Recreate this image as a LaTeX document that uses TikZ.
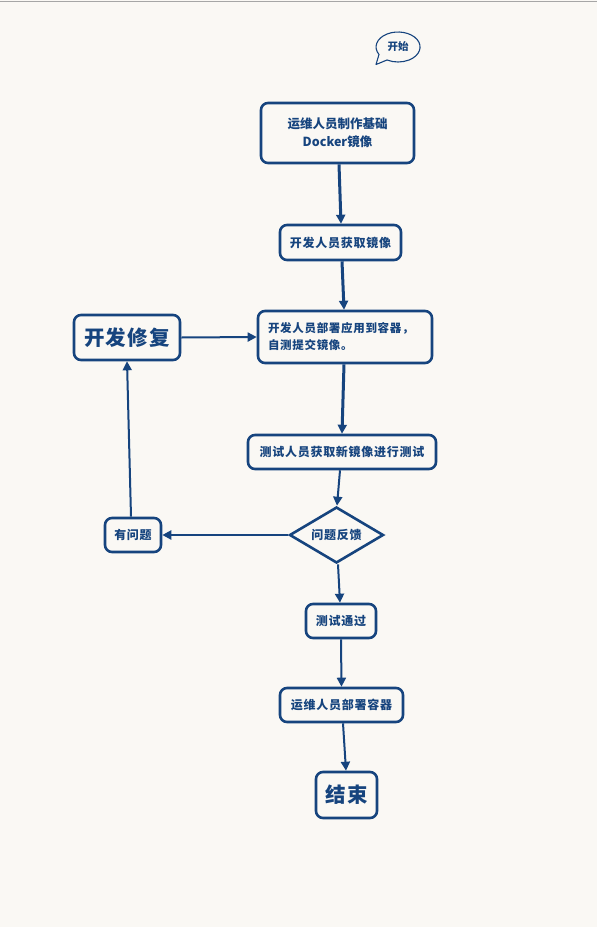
\documentclass[tikz,border=0pt]{standalone}
\usepackage{fontspec}
\usetikzlibrary{arrows.meta,shapes.geometric}
\newfontfamily\cjk{Noto Sans CJK SC}
\newfontfamily\cjkw[LetterSpace=6]{Noto Sans CJK SC}
\definecolor{bg}{RGB}{250,248,244}
\definecolor{dblue}{RGB}{22,68,126}
\begin{document}
\begin{tikzpicture}[x=1pt,y=-1pt,
  box/.style={draw=dblue, line width=2.6pt, rounded corners=7pt, fill=bg,
    align=center, inner sep=0pt, text=dblue, font=\cjkw\bfseries\fontsize{12}{17}\selectfont},
  bigbox/.style={box, font=\cjkw\bfseries\fontsize{20.5}{24}\selectfont},
  flow/.style={draw=dblue, line width=2pt, -{Triangle[length=9pt,width=9pt]}},
  thickflow/.style={flow, line width=3pt}]
% page
\fill[bg] (0,0) rectangle (597,927);
\useasboundingbox (0,0) rectangle (597,927);
\draw[gray!70, line width=1.5pt] (0,1.5) -- (597,1.5);

% start bubble
\draw[dblue, line width=1.1pt, fill=bg, line join=round]
  (379,54.5) arc[start angle=150, end angle=480, x radius=22, y radius=15]
  -- (376,64.5) -- cycle;
\fill[bg] (379.6,55.6) -- (385.5,58.6) -- (377.6,63) -- cycle;
\node[text=dblue, font=\cjk\bfseries\fontsize{10.5}{12}\selectfont] (start) at (398,47) {开始};

% nodes
\node[box, minimum width=153pt, minimum height=60pt,
  font=\cjk\bfseries\fontsize{12.5}{18}\selectfont] (base) at (337.5,133) {运维人员制作基础\\Docker镜像};
\node[box, minimum width=121pt, minimum height=35pt] (pull) at (340.5,242.5) {开发人员获取镜像};
\node[box, minimum width=174pt, minimum height=52pt, align=left, text width=154pt,
  font=\cjkw\bfseries\fontsize{11.5}{17}\selectfont] (deploy) at (345,337)
  {开发人员部署应用到容器，\\自测提交镜像。};
\node[bigbox, minimum width=106pt, minimum height=45pt] (fix) at (127,337.5) {开发修复};
\node[box, minimum width=188pt, minimum height=34pt] (test) at (342,452) {测试人员获取新镜像进行测试};
\node[draw=dblue, line width=2.6pt, fill=bg, diamond, shape aspect=1.68, inner sep=0pt,
  minimum width=94pt, minimum height=56pt, text=dblue,
  font=\cjkw\bfseries\fontsize{12}{14}\selectfont] (fb) at (336.5,535) {问题反馈};
\node[box, minimum width=56pt, minimum height=34pt] (issue) at (133,535) {有问题};
\node[box, minimum width=70pt, minimum height=34pt] (pass) at (341,621) {测试通过};
\node[box, minimum width=123pt, minimum height=34pt] (ops) at (341.5,705) {运维人员部署容器};
\node[bigbox, minimum width=61pt, minimum height=46pt] (end) at (346.5,795) {结束};

% connectors
\draw[thickflow] ([xshift=1.5pt]base.south) -- ([xshift=0.5pt]pull.north);
\draw[thickflow] ([xshift=1.5pt]pull.south) -- ([xshift=-1pt]deploy.north);
\draw[thickflow] ([xshift=-1pt]deploy.south) -- ([xshift=0pt]test.north);
\draw[flow] ([xshift=-2pt]test.south) -- ([xshift=0.5pt]fb.north);
\draw[flow, line width=2.3pt] (fb.west) -- (issue.east);
\draw[flow] ([xshift=-2pt]issue.north) -- (fix.south);
\draw[flow] (fix.east) -- (deploy.west);
\draw[flow] ([xshift=1.5pt]fb.south) -- ([xshift=-1pt]pass.north);
\draw[flow] (pass.south) -- ([xshift=0pt]ops.north);
\draw[flow] ([xshift=1.5pt]ops.south) -- ([xshift=-0.5pt]end.north);
\end{tikzpicture}
\end{document}
